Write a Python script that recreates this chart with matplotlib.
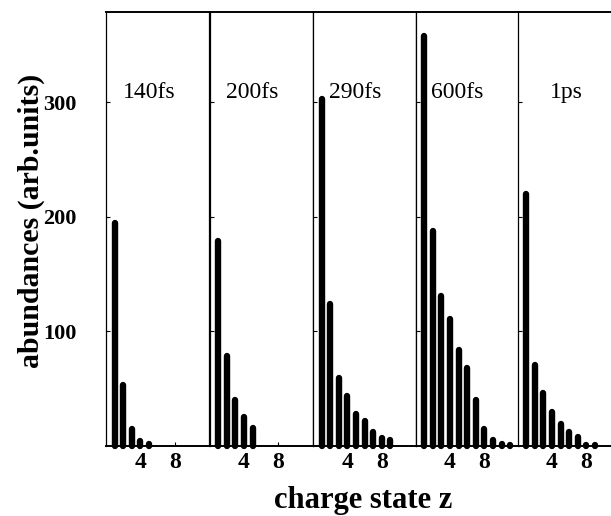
import numpy as np
import matplotlib
matplotlib.use("Agg")
import matplotlib.pyplot as plt

plt.rcParams['font.family'] = ['Liberation Serif', 'DejaVu Serif']

# pulse durations and abundances per charge state z (z = 1, 2, ...)
labels = ['140fs', '200fs', '290fs', '600fs', '1ps']
ab_140fs = [195, 53, 15, 4, 2]
ab_200fs = [179, 79, 40, 25, 16]
ab_290fs = [303, 124, 59, 44, 28, 22, 12, 7, 5]
ab_600fs = [358, 188, 131, 111, 84, 68, 40, 15, 5, 2, 1]
ab_1ps = [220, 71, 46, 30, 19, 12, 8, 1, 1]
yticks = [100, 200, 300]
xticks = [4, 8]

series = [ab_140fs, ab_200fs, ab_290fs, ab_600fs, ab_1ps]
lab_x = [5.0, 4.95, 4.95, 4.9, 5.65]   # where the panel titles sit

W, H = 611, 516
fig = plt.figure(figsize=(W / 100, H / 100), dpi=100)

lefts = [106, 209.5, 313, 415.5, 517.5]
pw = 103.2
for i, vals in enumerate(series):
    ax = fig.add_axes([lefts[i] / W, (H - 446) / H, pw / W, (446 - 12) / H])
    z = np.arange(1, len(vals) + 1)
    lc = ax.vlines(z, 0, vals, colors='black', linewidth=4.6, clip_on=False)
    lc.set_capstyle('round')
    ax.set_xlim(0, 12)
    ax.set_ylim(0, 379)
    ax.set_yticks(yticks)
    ax.set_xticks(xticks)
    ax.tick_params(direction='in', length=3, width=0.8)
    ax.tick_params(axis='x', pad=4, labelsize=17)
    for lbl in ax.get_xticklabels():
        lbl.set_fontweight('bold')
    if i == 0:
        ax.tick_params(axis='y', pad=21, labelsize=16)
        for lbl in ax.get_yticklabels():
            lbl.set_fontweight('bold')
    else:
        ax.tick_params(axis='y', labelleft=False)
    for s in ['left', 'right']:
        ax.spines[s].set_linewidth(0.9)
    ax.spines['top'].set_linewidth(1.4)
    ax.spines['bottom'].set_linewidth(1.4)
    ax.text(lab_x[i], 304, labels[i], ha='center', va='baseline', fontsize=17)

fig.text(363 / W, 8 / H, 'charge state z', ha='center', va='baseline',
         fontsize=22, fontweight='bold')
fig.text(31 / W, 1 - 221 / H, 'abundances (arb.units)', ha='center', va='center',
         rotation=90, fontsize=21.5, fontweight='bold')

fig.savefig('out.png', dpi=100)
